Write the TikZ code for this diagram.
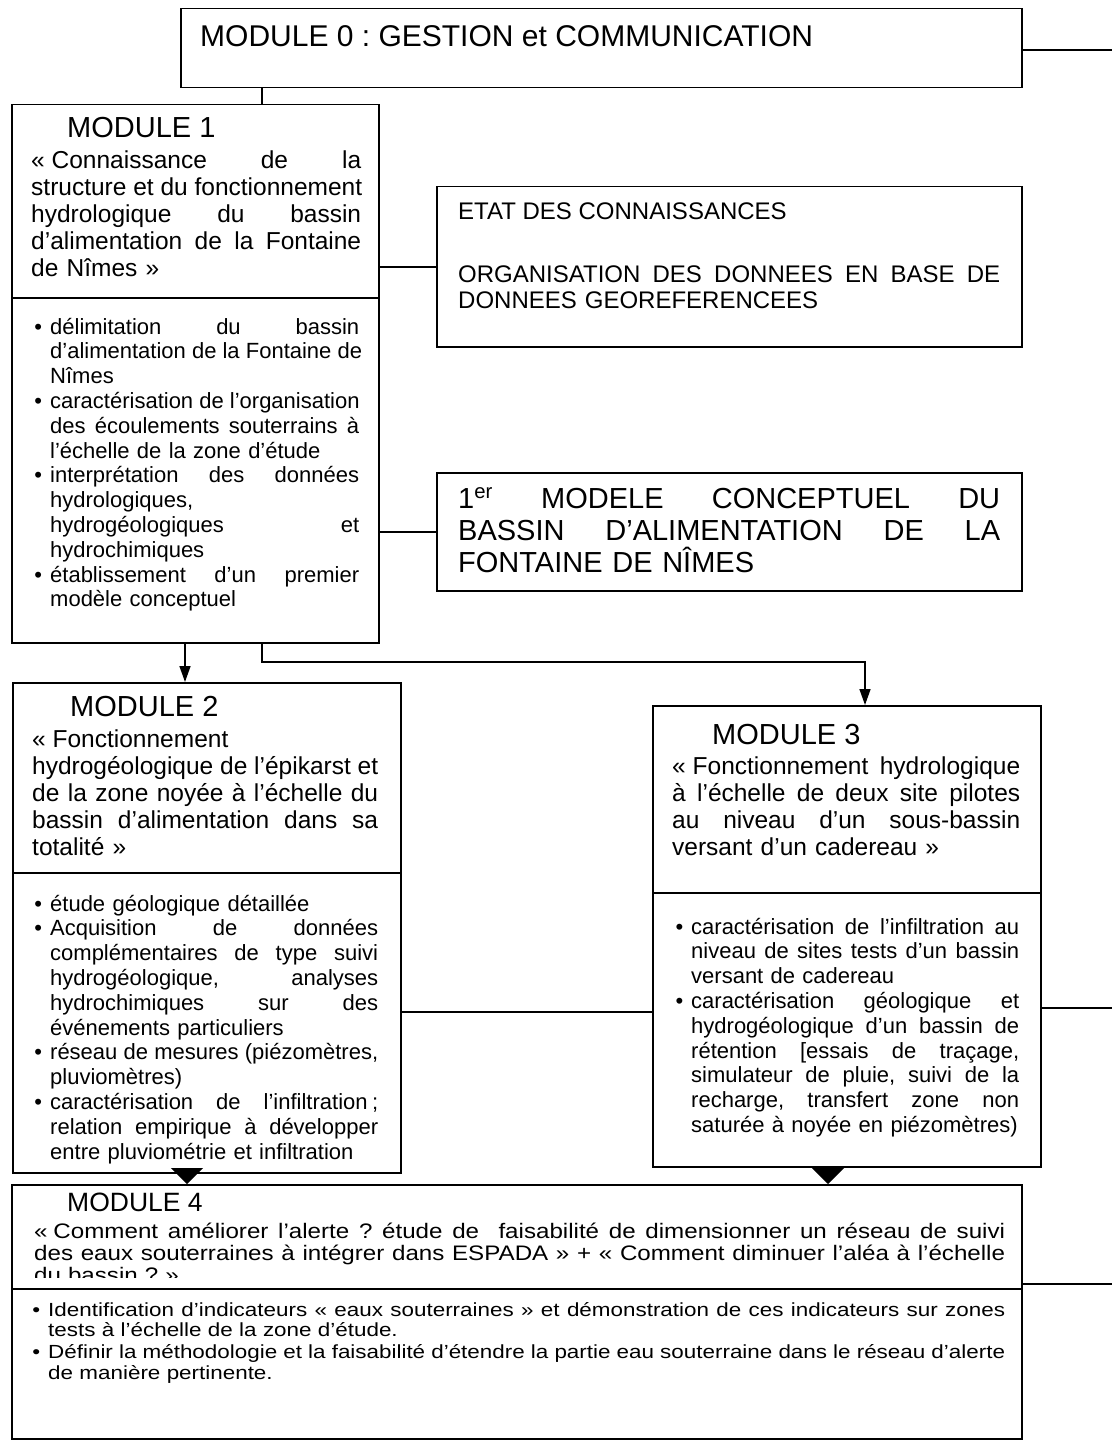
\documentclass[tikz,border=0pt]{standalone}
\usepackage{fontspec}
\setmainfont{Liberation Sans}
\newfontfamily\wideA[Ligatures=TeX,FakeStretch=1.15]{Liberation Sans}
\newfontfamily\wideB[Ligatures=TeX,FakeStretch=1.18]{Liberation Sans}
\usetikzlibrary{arrows.meta}
\frenchspacing
\newcommand\jl[1]{\leavevmode\hbox to\hsize{\frenchspacing\spaceskip=0.278em plus 1fil\relax #1}}
\newcommand\bul{\leavevmode\llap{•\hspace{8pt}}}
\newcommand\fHead{\fontsize{29}{32}\selectfont}
\newcommand\fTitle{\fontsize{24.5}{27}\selectfont}
\newcommand\fBul{\fontsize{22}{24.8}\selectfont}
\newcommand\fEtat{\fontsize{24}{26.5}\selectfont}
\newcommand\fModele{\fontsize{29}{32}\selectfont}
\newcommand\fZero{\fontsize{30}{33}\selectfont}
\newcommand\fHeadD{\fontsize{26.5}{30}\selectfont}
\newcommand\fTitleD{\wideA\fontsize{21}{22}\selectfont}
\newcommand\fBulD{\wideB\fontsize{19}{20.5}\selectfont}
\begin{document}
\begin{tikzpicture}[x=1pt,y=-1pt,
  box/.style={draw, line width=1.5pt, anchor=north west, inner sep=0pt},
  txt/.style={anchor=base west, inner sep=0pt, text width=#1},
  lbl/.style={anchor=base west, inner sep=0pt},
  ln/.style={line width=1.5pt},
  arr/.style={line width=1.5pt, -{Triangle[width=11pt,length=16pt]}},
  tri/.style={line width=1.5pt, -{Triangle[width=32pt,length=16pt]}}]
\useasboundingbox (0,0) rectangle (1112,1447);

% boxes
\node[box, minimum width=841pt, minimum height=79pt] (m0) at (180,8) {};
\node[box, minimum width=367pt, minimum height=538pt] (m1) at (11,104) {};
\node[box, minimum width=585pt, minimum height=160pt] (etat) at (436,186) {};
\node[box, minimum width=585pt, minimum height=118pt] (mod) at (436,472) {};
\node[box, minimum width=388pt, minimum height=490pt] (m2) at (12,682) {};
\node[box, minimum width=388pt, minimum height=461pt] (m3) at (652,705) {};
\node[box, minimum width=1010pt, minimum height=254pt] (m4) at (11,1184) {};

% dividers
\coordinate (d1) at (0,298);
\coordinate (d2) at (0,873);
\coordinate (d3) at (0,893);
\coordinate (d4) at (0,1289);
\draw[ln] (m1.west |- d1) -- (m1.east |- d1);
\draw[ln] (m2.west |- d2) -- (m2.east |- d2);
\draw[ln] (m3.west |- d3) -- (m3.east |- d3);
\draw[ln] (m4.west |- d4) -- (m4.east |- d4);

% connectors
\coordinate (e0) at (1112,50);
\draw[ln] (e0 -| m0.east) -- (e0);
\coordinate (x262) at (262,0);
\draw[ln] (m0.south -| x262) -- (m1.north -| x262);
\draw[ln] (m1.east |- etat.west) -- (etat.west);
\draw[ln] (m1.east |- mod.west) -- (mod.west);
\coordinate (x185) at (185,0);
\draw[arr] (m1.south -| x185) -- (m2.north -| x185);
\coordinate (k1) at (865,662);
\draw[arr] (m1.south -| x262) |- (k1) -- (m3.north -| k1);
\coordinate (c23) at (0,1012);
\draw[ln] (m2.east |- c23) -- (m3.west |- c23);
\coordinate (e3) at (1112,1008);
\draw[ln] (e3 -| m3.east) -- (e3);
\coordinate (e4) at (1112,1284);
\draw[ln] (e4 -| m4.east) -- (e4);
\coordinate (x187) at (187,0);
\coordinate (x828) at (828,0);
\draw[tri] (m2.south -| x187) -- (m4.north -| x187);
\draw[tri] (m3.south -| x828) -- (m4.north -| x828);

% module 0
\node[lbl, font=\fZero] (t0) at (200,47) {MODULE 0 : GESTION et COMMUNICATION};

% module 1
\node[lbl, font=\fHead] (h1) at (67,138) {MODULE 1};
\node[txt=330pt, font=\fTitle] (t1) at (31,169) {\jl{«\hspace{0.28em}Connaissance de la}\\
\jl{structure et du fonctionnement}\\
\jl{hydrologique du bassin}\\
\jl{d'alimentation de la Fontaine}\\
de Nîmes »};
\node[txt=309pt, font=\fBul] (b1) at (50,334) {\jl{\bul délimitation du bassin}\\
\jl{d'alimentation de la Fontaine de}\\
Nîmes\\
\jl{\bul caractérisation de l'organisation}\\
\jl{des écoulements souterrains à}\\
l'échelle de la zone d'étude\\
\jl{\bul interprétation des données}\\
hydrologiques,\\
\jl{hydrogéologiques et}\\
hydrochimiques\\
\jl{\bul établissement d'un premier}\\
modèle conceptuel};

% etat / modele
\node[lbl, font=\fEtat] (et1) at (458,220) {ETAT DES CONNAISSANCES};
\node[txt=542pt, font=\fEtat] (et2) at (458,282) {\jl{ORGANISATION DES DONNEES EN BASE DE}\\
DONNEES GEOREFERENCEES};
\node[txt=542pt, font=\fModele] (mt) at (458,508) {\jl{1\textsuperscript{er} MODELE CONCEPTUEL DU}\\
\jl{BASSIN D'ALIMENTATION DE LA}\\
FONTAINE DE NÎMES};

% module 2
\node[lbl, font=\fHead] (h2) at (70,716) {MODULE 2};
\node[txt=346pt, font=\fTitle] (t2) at (32,747) {«\hspace{0.28em}Fonctionnement\\
\jl{hydrogéologique de l'épikarst et}\\
\jl{de la zone noyée à l'échelle du}\\
\jl{bassin d'alimentation dans sa}\\
totalité »};
\node[txt=328pt, font=\fBul] (b2) at (50,911) {\bul étude géologique détaillée\\
\jl{\bul Acquisition de données}\\
\jl{complémentaires de type suivi}\\
\jl{hydrogéologique, analyses}\\
\jl{hydrochimiques sur des}\\
événements particuliers\\
\jl{\bul réseau de mesures (piézomètres,}\\
pluviomètres)\\
\jl{\bul caractérisation de l'infiltration\hspace{0.2em};}\\
\jl{relation empirique à développer}\\
entre pluviométrie et infiltration};

% module 3
\node[lbl, font=\fHead] (h3) at (712,744) {MODULE 3};
\node[txt=348pt, font=\fTitle] (t3) at (672,774) {\jl{«\hspace{0.28em}Fonctionnement hydrologique}\\
\jl{à l'échelle de deux site pilotes}\\
\jl{au niveau d'un sous-bassin}\\
versant d'un cadereau »};
\node[txt=328pt, font=\fBul] (b3) at (691,934) {\jl{\bul caractérisation de l'infiltration au}\\
\jl{niveau de sites tests d'un bassin}\\
versant de cadereau\\
\jl{\bul caractérisation géologique et}\\
\jl{hydrogéologique d'un bassin de}\\
\jl{rétention [essais de traçage,}\\
\jl{simulateur de pluie, suivi de la}\\
\jl{recharge, transfert zone non}\\
saturée à noyée en piézomètres)};

% module 4
\node[lbl, font=\fHeadD] (h4) at (67,1211) {MODULE 4};
\begin{scope}
\clip (11,1184) rectangle (1021,1277);
\node[txt=971pt, font=\fTitleD] (t4) at (34,1238) {\jl{«\hspace{0.28em}Comment améliorer l'alerte ? étude de\ \ faisabilité de dimensionner un réseau de suivi}\\
\jl{des eaux souterraines à intégrer dans ESPADA » + « Comment diminuer l'aléa à l'échelle}\\
du bassin ? »};
\end{scope}
\node[txt=957pt, font=\fBulD] (b4) at (48,1316) {\jl{\bul Identification d'indicateurs « eaux souterraines » et démonstration de ces indicateurs sur zones}\\
tests à l'échelle de la zone d'étude.\\[1.5pt]
\jl{\bul Définir la méthodologie et la faisabilité d'étendre la partie eau souterraine dans le réseau d'alerte}\\
de manière pertinente.};
\end{tikzpicture}
\end{document}
